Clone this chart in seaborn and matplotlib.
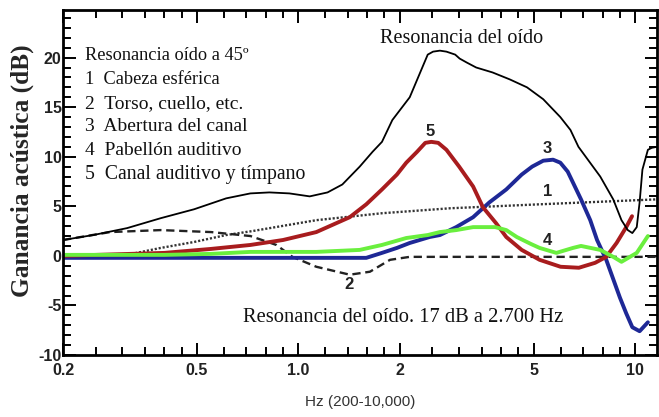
import numpy as np
import pandas as pd
import matplotlib
matplotlib.use("Agg")
import matplotlib.pyplot as plt
from matplotlib.ticker import FixedLocator, NullFormatter
import seaborn as sns

# Frequencies in kHz, gains in dB
res_f = [0.2, 0.246, 0.31, 0.39, 0.49, 0.61, 0.72, 0.82, 0.94, 1.08, 1.22, 1.35,
         1.52, 1.66, 1.77, 1.90, 2.14, 2.42, 2.51, 2.63, 2.75, 2.92, 3.01, 3.16,
         3.37, 3.77, 4.24, 4.77, 5.33, 5.99, 6.42, 6.78, 7.87, 8.6, 9.1, 9.5,
         9.8, 10.1, 10.3, 10.5, 10.9, 11.2, 11.6]
res_db = [1.6, 2.1, 2.8, 3.8, 4.7, 5.8, 6.3, 6.4, 6.3, 6.0, 6.4, 7.2,
          9.0, 10.5, 11.5, 13.7, 16.0, 20.3, 20.6, 20.7, 20.6, 20.3, 19.9, 19.5,
          19.0, 18.5, 17.8, 17.0, 15.8, 14.0, 12.7, 11.0, 8.0, 5.7, 3.6, 2.6,
          2.3, 2.9, 5.4, 8.7, 10.7, 10.9, 11.0]

c1_f = [0.2, 0.25, 0.31, 0.39, 0.49, 0.61, 0.73, 1.13, 1.77, 2.82, 5.2, 11.6]
c1_db = [0.0, 0.0, 0.1, 0.8, 1.4, 2.1, 2.5, 3.6, 4.3, 4.8, 5.2, 5.7]

c2_f = [0.2, 0.276, 0.39, 0.55, 0.72, 0.86, 0.96, 1.13, 1.42, 1.63, 1.87, 2.14, 11.6]
c2_db = [1.6, 2.4, 2.6, 2.4, 2.0, 1.1, -0.1, -1.1, -1.9, -1.6, -0.4, -0.1, -0.1]

c3_f = [0.2, 1.0, 1.59, 1.77, 1.96, 2.14, 2.45, 2.63, 2.94, 3.3, 3.69, 4.14,
        4.6, 4.94, 5.33, 5.7, 5.99, 6.3, 6.53, 6.9, 7.35, 7.7, 8.2, 9.0,
        9.4, 9.8, 10.3, 10.9]
c3_db = [-0.2, -0.2, -0.2, 0.3, 0.8, 1.3, 1.9, 2.1, 2.9, 3.9, 5.4, 6.7,
         8.2, 9.0, 9.6, 9.7, 9.4, 8.5, 7.4, 5.7, 3.6, 1.6, -0.4, -4.2,
         -5.8, -7.2, -7.6, -6.7]

c4_f = [0.2, 0.4, 0.55, 0.72, 1.13, 1.52, 1.77, 2.09, 2.42, 2.63, 2.94, 3.3,
        3.84, 4.14, 4.45, 4.9, 5.2, 5.83, 6.53, 6.9, 7.87, 8.6, 9.1, 10.1, 10.9]
c4_db = [0.1, 0.1, 0.2, 0.4, 0.4, 0.6, 1.1, 1.8, 2.1, 2.4, 2.6, 2.9,
         2.9, 2.6, 1.9, 1.2, 0.8, 0.3, 0.8, 1.0, 0.6, -0.1, -0.6, 0.3, 2.0]

c5_f = [0.2, 0.4, 0.55, 0.72, 0.90, 1.13, 1.42, 1.59, 1.77, 1.96, 2.09, 2.25,
        2.38, 2.48, 2.6, 2.75, 3.0, 3.3, 3.53, 3.86, 4.14, 4.6, 5.2, 6.0,
        6.8, 7.6, 8.2, 8.8, 9.4, 9.78]
c5_db = [0.0, 0.3, 0.7, 1.1, 1.6, 2.4, 3.9, 5.2, 6.7, 8.2, 9.4, 10.5,
         11.4, 11.5, 11.4, 10.7, 9.0, 7.0, 4.9, 3.3, 1.9, 0.6, -0.4, -1.1,
         -1.2, -0.7, -0.1, 1.3, 2.9, 4.0]

legend_lines = ["Resonancia oído a 45º",
                "1  Cabeza esférica",
                "2  Torso, cuello, etc.",
                "3  Abertura del canal",
                "4  Pabellón auditivo",
                "5  Canal auditivo y tímpano"]
legend_sizes = [13.2, 13.2, 14.0, 14.0, 14.0, 14.2]

x_major = [0.2, 0.5, 1.0, 2, 5, 10]
x_major_labels = ["0.2", "0.5", "1.0", "2", "5", "10"]
x_minor = [0.25, 0.3, 0.35, 0.4, 0.45, 0.6, 0.7, 0.8, 0.9, 1.2, 1.4, 1.6, 1.8,
           2.5, 3, 3.5, 4, 4.5, 6, 7, 8, 9]
y_major = [-10, -5, 0, 5, 10, 15, 20]

sns.set_style("ticks")
plt.rcParams["font.family"] = ["Liberation Sans", "DejaVu Sans"]
plt.rcParams["axes.unicode_minus"] = False

fig = plt.figure(figsize=(6.59, 4.17), dpi=100)
ax = fig.add_axes([63 / 659, 1 - 355 / 417, (657 - 63) / 659, (355 - 10) / 417])

RED = "#a81c1e"
BLUE = "#1e2896"
GREEN = "#6aef3e"

def draw(f, db, **kw):
    sns.lineplot(x=f, y=db, ax=ax, estimator=None, sort=False, legend=False, **kw)

draw(c1_f, c1_db, color="#333333", linewidth=1.7, linestyle=(0, (0.9, 0.8)))
draw(c2_f, c2_db, color="#222222", linewidth=1.7, linestyle=(0, (3.5, 2)))
draw(c3_f, c3_db, color=BLUE, linewidth=2.8)
draw(c5_f, c5_db, color=RED, linewidth=2.8)
draw(c4_f, c4_db, color=GREEN, linewidth=2.8)
draw(res_f, res_db, color="black", linewidth=1.3)

ax.set_xscale("log")
ax.set_xlim(0.2, 11.6)
ax.set_ylim(-10, 24.8)

ax.xaxis.set_major_locator(FixedLocator(x_major))
ax.set_xticklabels(x_major_labels)
ax.xaxis.set_minor_locator(FixedLocator(x_minor))
ax.xaxis.set_minor_formatter(NullFormatter())
ax.yaxis.set_major_locator(FixedLocator(y_major))
ax.yaxis.set_minor_locator(FixedLocator(list(range(-10, 25))))

ax.tick_params(which="both", direction="in", top=True, right=True, width=1.4, color="black")
ax.tick_params(which="major", length=9)
ax.tick_params(which="minor", length=5.5)
ax.tick_params(axis="both", which="major", labelsize=11.5)
for lab in ax.get_xticklabels() + ax.get_yticklabels():
    lab.set_fontweight("bold")
    lab.set_color("#222222")
ax.tick_params(axis="y", pad=1)
ax.tick_params(axis="x", pad=6)

for s in ax.spines.values():
    s.set_linewidth(2.0)
    s.set_color("black")

ax.set_xlabel("Hz (200-10,000)", fontsize=11, color="#333333", labelpad=12)
ax.set_ylabel("Ganancia acústica (dB)", fontsize=18.3, fontweight="bold",
              family=["Liberation Serif", "DejaVu Serif"], labelpad=3, y=0.535)

serif = ["Liberation Serif", "DejaVu Serif"]
for i, (line, size) in enumerate(zip(legend_lines, legend_sizes)):
    ax.text(0.232, 20.2 - i * 2.4, line, fontsize=size, family=serif,
            va="center", ha="left", color="#111111")

ax.text(3.05, 21.9, "Resonancia del oído", fontsize=14.5, family=serif,
        va="center", ha="center", color="#111111")
ax.text(2.05, -6.2, "Resonancia del oído. 17 dB a 2.700 Hz", fontsize=14.8,
        family=serif, va="center", ha="center", color="#111111")

for num, fx, fy in [("5", 2.46, 12.5), ("3", 5.48, 10.8), ("1", 5.48, 6.5),
                    ("4", 5.48, 1.5), ("2", 1.41, -2.9)]:
    ax.text(fx, fy, num, fontsize=12, fontweight="bold", ha="center", va="center",
            color="#222222")

fig.savefig("out.png", dpi=100)
